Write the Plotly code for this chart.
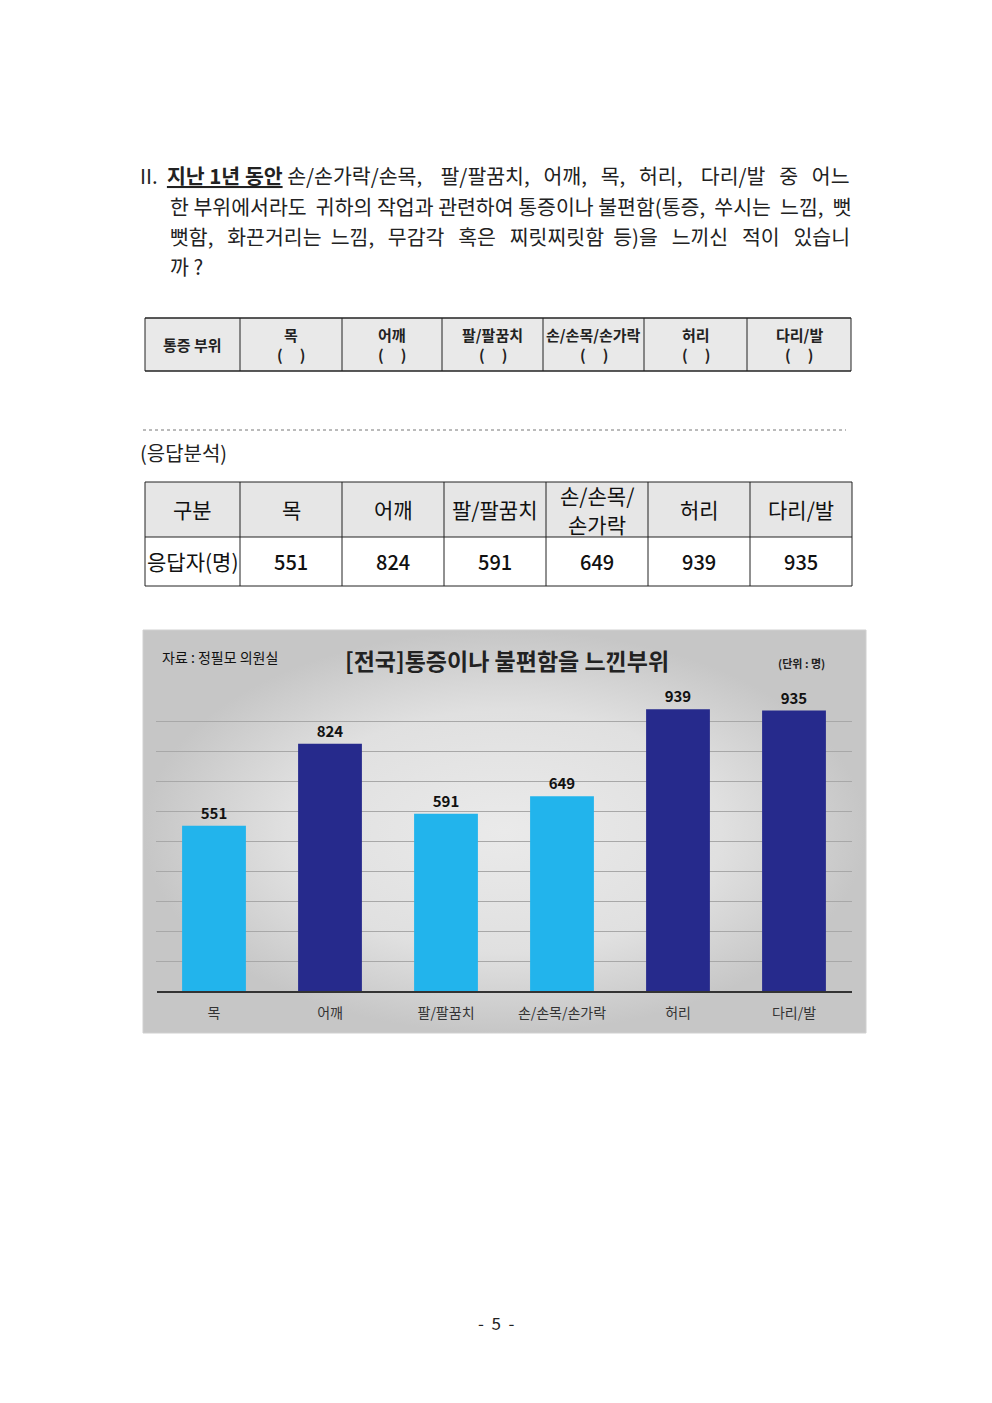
import plotly.graph_objects as go

# data
parts = ['목', '어깨', '팔/팔꿈치', '손/손목/손가락', '허리', '다리/발']
respondents = [551, 824, 591, 649, 939, 935]
table_header = ['구분', '목', '어깨', '팔/팔꿈치', '손/손목/\n손가락', '허리', '다리/발']
survey_header = ['통증 부위', '목', '어깨', '팔/팔꿈치', '손/손목/손가락', '허리', '다리/발']

question = [
    'II.  <b><u>지난 1년 동안</u></b> 손/손가락/손목,    팔/팔꿈치,   어깨,   목,   허리,    다리/발   중   어느',
    '한 부위에서라도  귀하의 작업과 관련하여 통증이나 불편함(통증,  쑤시는  느낌,  뻣',
    '뻣함,   화끈거리는  느낌,   무감각   혹은   찌릿찌릿함  등)을   느끼신   적이   있습니',
    '까 ?',
]

W, H = 992, 1403
OFF = 8  # browser body margin
KR = 'Noto Sans CJK KR'
bar_colors = ['#22b4ec', '#262a8c', '#22b4ec', '#22b4ec', '#262a8c', '#262a8c']

fig = go.Figure()

# chart background (page subplot, pixel coords of the screenshot)
bx0, bx1, by0, by1 = 143, 866, 630, 1033
fig.add_trace(go.Scatter(
    x=[bx0, bx1, bx1, bx0, bx0], y=[by0, by0, by1, by1, by0],
    mode='lines', line=dict(color='#d0d0d0', width=1),
    fill='toself',
    fillgradient=dict(type='radial', colorscale=[[0, '#eaeaea'], [0.6, '#e0e0e0'], [1, '#c6c6c6']]),
    hoverinfo='skip', showlegend=False, xaxis='x', yaxis='y'))

# bar chart
fig.add_trace(go.Bar(
    x=parts, y=respondents, marker=dict(color=bar_colors, line=dict(width=0)),
    text=respondents, textposition='outside', cliponaxis=False,
    textfont=dict(family=KR, size=15, color='#111111', weight='bold'),
    showlegend=False, xaxis='x2', yaxis='y2'))

shapes = []
ann = []


def txt(x, y, s, size=19, anchor='left', color='#222222', family=KR, **kw):
    ann.append(dict(x=x, y=y, xref='x', yref='y', text=s, showarrow=False,
                    xanchor=anchor, yanchor='middle',
                    font=dict(family=family, size=size, color=color, **kw)))


def line(x0, y0, x1, y1, color='#222222', width=1, dash=None):
    shapes.append(dict(type='line', xref='x', yref='y', x0=x0, y0=y0, x1=x1, y1=y1,
                       line=dict(color=color, width=width, dash=dash)))


def rect(x0, y0, x1, y1, fill):
    shapes.append(dict(type='rect', xref='x', yref='y', x0=x0, y0=y0, x1=x1, y1=y1,
                       line=dict(width=0), fillcolor=fill, layer='below'))


# question text
txt(138, 175, question[0], size=20.5)
for i, s in enumerate(question[1:]):
    txt(168, 206 + 30 * i, s, size=20.5)

# survey table
cols1 = [145, 240, 342, 442, 543, 644, 747, 851]
rect(cols1[0], 318, cols1[-1], 371, '#e9e9e9')
for x in cols1:
    line(x, 318, x, 371, width=1)
line(145, 318, 851, 318, width=1.5)
line(145, 371, 851, 371, width=1.5)
txt((cols1[0] + cols1[1]) / 2, 344, survey_header[0], size=15, anchor='center', weight='bold')
for i, s in enumerate(survey_header[1:]):
    cx = (cols1[i + 1] + cols1[i + 2]) / 2
    txt(cx, 334, s, size=15, anchor='center', weight='bold')
    txt(cx, 354, '(     )', size=15, anchor='center', weight='bold')

# dotted separator
line(143, 430, 846, 430, color='#777777', width=1, dash='dot')
txt(138, 452, '(응답분석)', size=20)

# response table
cols2 = [145, 240, 342, 444, 546, 648, 750, 852]
rect(cols2[0], 482, cols2[-1], 537, '#e6e6e6')
for x in cols2:
    line(x, 482, x, 586, width=1)
for y in (482, 537, 586):
    line(145, y, 852, y, width=1)
for i, s in enumerate(table_header):
    cx = (cols2[i] + cols2[i + 1]) / 2
    rows = s.split('\n')
    if len(rows) == 1:
        txt(cx, 509, s, size=21, anchor='center', color='#111111')
    else:
        txt(cx, 495, rows[0], size=21, anchor='center', color='#111111')
        txt(cx, 524, rows[1], size=21, anchor='center', color='#111111')
txt((cols2[0] + cols2[1]) / 2, 561, '응답자(명)', size=21, anchor='center', color='#111111')
for i, v in enumerate(respondents):
    cx = (cols2[i + 1] + cols2[i + 2]) / 2
    txt(cx, 561, f'{v:,}', size=20, anchor='center', color='#111111', weight=500)

# chart titles
txt(160, 657, '자료 : 정필모 의원실', size=14, color='#111111')
txt(507, 660, '[전국]통증이나 불편함을 느낀부위', size=23, anchor='center', color='#222222', weight='bold')
txt(801, 663, '(단위 : 명)', size=11, anchor='center', color='#222222', weight='bold')

# baseline
line(157, 992, 852, 992, color='#333333', width=2)

# page number
txt(496, 1322, '-  5  -', size=17, anchor='center', color='#222222')

fig.update_layout(
    width=W, height=H, margin=dict(l=0, r=0, t=0, b=0),
    paper_bgcolor='white', plot_bgcolor='rgba(0,0,0,0)',
    xaxis=dict(range=[OFF, W + OFF], domain=[0, 1], visible=False, fixedrange=True),
    yaxis=dict(range=[H + OFF, OFF], domain=[0, 1], visible=False, fixedrange=True),
    xaxis2=dict(domain=[(156 - OFF) / W, (852 - OFF) / W], anchor='y2', showgrid=False,
                showline=False, ticks='', ticklabelstandoff=12,
                tickfont=dict(family=KR, size=14, color='#333333')),
    yaxis2=dict(domain=[1 - (991 - OFF) / H, 1 - (691 - OFF) / H], anchor='x2', range=[0, 1000],
                dtick=100, showticklabels=False, showgrid=True, gridcolor='#a8a8a8', gridwidth=1,
                zeroline=False, showline=False),
    bargap=0.45,
    shapes=shapes, annotations=ann,
)

fig.write_html('out.html')
